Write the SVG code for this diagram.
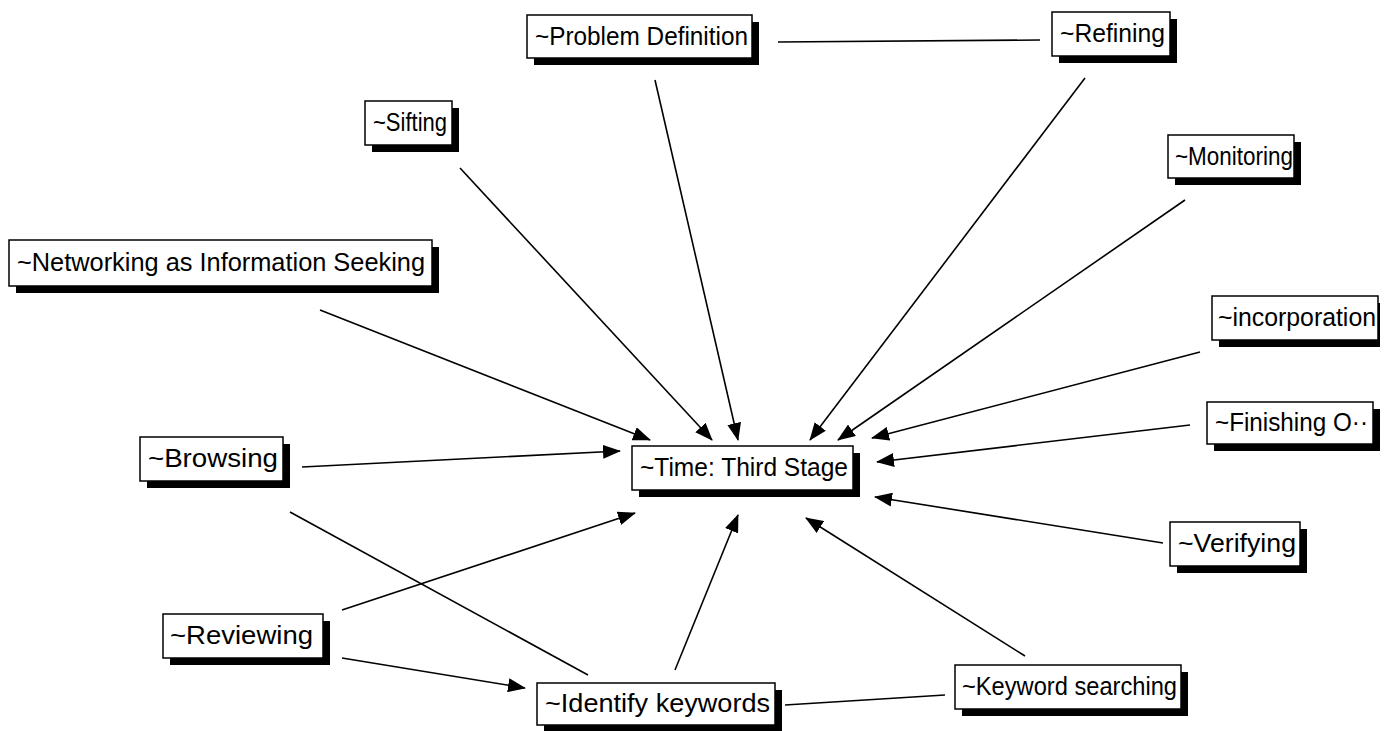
<svg xmlns="http://www.w3.org/2000/svg" width="1388" height="731" viewBox="0 0 1388 731">
  <style>
    .shadow { fill: #000; }
    .box { fill: #fff; stroke: #000; stroke-width: 1.5; }
    .label { font-family: "Liberation Sans", Arial, sans-serif; font-size: 25px; fill: #000; }
    .link { stroke: #000; stroke-width: 1.6; fill: none; }
  </style>
  <defs>
    <marker id="arrow" viewBox="0 0 18 14" refX="17" refY="7" markerWidth="18" markerHeight="14" markerUnits="userSpaceOnUse" orient="auto">
      <path d="M0,0 L18,7 L0,14 Z" fill="#000"/>
    </marker>
  </defs>
  <rect width="1388" height="731" fill="#fff"/>

  <g id="connectors">
    <line class="link" x1="778" y1="42" x2="1040" y2="40"/>
    <line class="link" x1="460" y1="168" x2="712" y2="440" marker-end="url(#arrow)"/>
    <line class="link" x1="655" y1="80" x2="738" y2="440" marker-end="url(#arrow)"/>
    <line class="link" x1="1085" y1="78" x2="810" y2="440" marker-end="url(#arrow)"/>
    <line class="link" x1="1185" y1="200" x2="838" y2="440" marker-end="url(#arrow)"/>
    <line class="link" x1="320" y1="310" x2="650" y2="440" marker-end="url(#arrow)"/>
    <line class="link" x1="1200" y1="352" x2="872" y2="438" marker-end="url(#arrow)"/>
    <line class="link" x1="1190" y1="425" x2="877" y2="462" marker-end="url(#arrow)"/>
    <line class="link" x1="1163" y1="543" x2="875" y2="497" marker-end="url(#arrow)"/>
    <line class="link" x1="302" y1="467" x2="620" y2="451" marker-end="url(#arrow)"/>
    <line class="link" x1="290" y1="512" x2="588" y2="675"/>
    <line class="link" x1="342" y1="610" x2="635" y2="513" marker-end="url(#arrow)"/>
    <line class="link" x1="342" y1="658" x2="525" y2="688" marker-end="url(#arrow)"/>
    <line class="link" x1="675" y1="670" x2="738" y2="515" marker-end="url(#arrow)"/>
    <line class="link" x1="1025" y1="656" x2="806" y2="518" marker-end="url(#arrow)"/>
    <line class="link" x1="785" y1="705" x2="945" y2="695"/>
  </g>

  <g id="node-problem-definition">
    <rect class="shadow" x="534" y="22" width="225" height="43"/>
    <rect class="box" x="527" y="15" width="225" height="43"/>
    <text class="label" x="535" y="45" textLength="213" lengthAdjust="spacingAndGlyphs">~Problem Definition</text>
  </g>
  <g id="node-refining">
    <rect class="shadow" x="1059" y="19" width="118" height="44"/>
    <rect class="box" x="1052" y="12" width="118" height="44"/>
    <text class="label" x="1060" y="42" textLength="105" lengthAdjust="spacingAndGlyphs">~Refining</text>
  </g>
  <g id="node-sifting">
    <rect class="shadow" x="372" y="108" width="87" height="44"/>
    <rect class="box" x="365" y="101" width="87" height="44"/>
    <text class="label" x="373" y="131" textLength="74" lengthAdjust="spacingAndGlyphs">~Sifting</text>
  </g>
  <g id="node-monitoring">
    <rect class="shadow" x="1175" y="142" width="126" height="43"/>
    <rect class="box" x="1168" y="135" width="126" height="43"/>
    <text class="label" x="1175" y="165" textLength="118" lengthAdjust="spacingAndGlyphs">~Monitoring</text>
  </g>
  <g id="node-networking">
    <rect class="shadow" x="16" y="247" width="423" height="46"/>
    <rect class="box" x="9" y="240" width="423" height="46"/>
    <text class="label" x="17" y="271" textLength="408" lengthAdjust="spacingAndGlyphs">~Networking as Information Seeking</text>
  </g>
  <g id="node-incorporation">
    <rect class="shadow" x="1219" y="303" width="161" height="44"/>
    <rect class="box" x="1212" y="296" width="166" height="44"/>
    <text class="label" x="1218" y="326" textLength="158" lengthAdjust="spacingAndGlyphs">~incorporation</text>
  </g>
  <g id="node-time-third-stage">
    <rect class="shadow" x="639" y="453" width="221" height="44"/>
    <rect class="box" x="632" y="446" width="221" height="44"/>
    <text class="label" x="640" y="476" textLength="208" lengthAdjust="spacingAndGlyphs">~Time: Third Stage</text>
  </g>
  <g id="node-finishing">
    <rect class="shadow" x="1214" y="409" width="166" height="42"/>
    <rect class="box" x="1207" y="402" width="166" height="42"/>
    <text class="label" x="1215" y="431" textLength="153" lengthAdjust="spacingAndGlyphs">~Finishing O··</text>
  </g>
  <g id="node-browsing">
    <rect class="shadow" x="147" y="444" width="143" height="44"/>
    <rect class="box" x="140" y="437" width="143" height="44"/>
    <text class="label" x="148" y="467" textLength="130" lengthAdjust="spacingAndGlyphs">~Browsing</text>
  </g>
  <g id="node-verifying">
    <rect class="shadow" x="1177" y="529" width="130" height="44"/>
    <rect class="box" x="1170" y="522" width="130" height="44"/>
    <text class="label" x="1178" y="552" textLength="118" lengthAdjust="spacingAndGlyphs">~Verifying</text>
  </g>
  <g id="node-reviewing">
    <rect class="shadow" x="170" y="621" width="160" height="44"/>
    <rect class="box" x="163" y="614" width="160" height="44"/>
    <text class="label" x="170" y="644" textLength="143" lengthAdjust="spacingAndGlyphs">~Reviewing</text>
  </g>
  <g id="node-identify-keywords">
    <rect class="shadow" x="544" y="690" width="238" height="42"/>
    <rect class="box" x="537" y="683" width="238" height="42"/>
    <text class="label" x="545" y="712" textLength="225" lengthAdjust="spacingAndGlyphs">~Identify keywords</text>
  </g>
  <g id="node-keyword-searching">
    <rect class="shadow" x="962" y="672" width="226" height="44"/>
    <rect class="box" x="955" y="665" width="226" height="44"/>
    <text class="label" x="962" y="695" textLength="215" lengthAdjust="spacingAndGlyphs">~Keyword searching</text>
  </g>
</svg>
